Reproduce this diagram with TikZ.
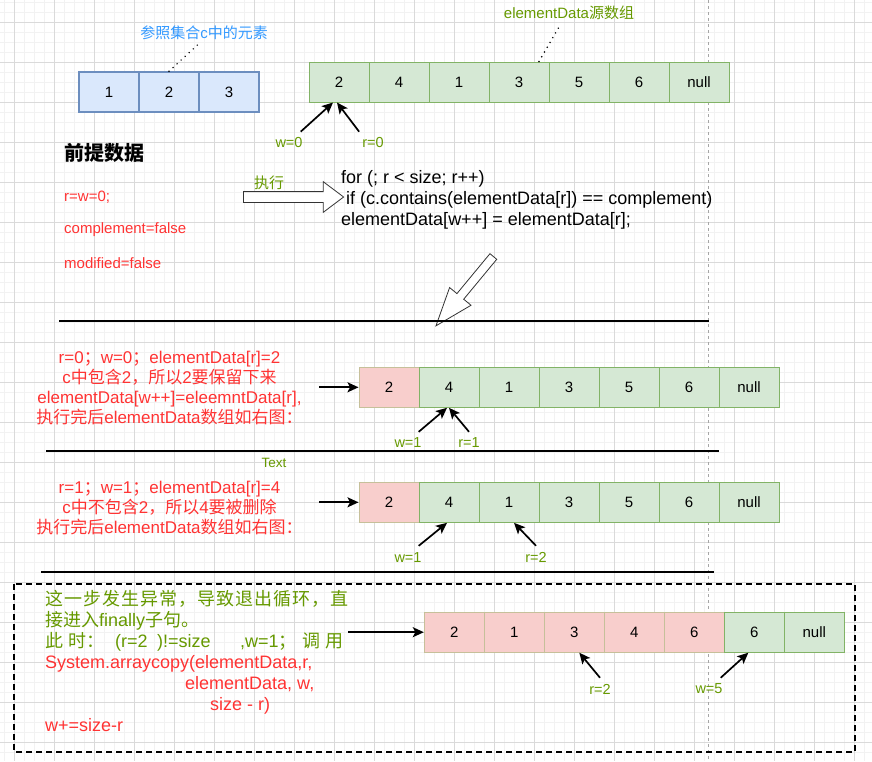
\documentclass[tikz,border=0pt]{standalone}
\usepackage{fontspec}
\setmainfont{Liberation Sans}
\newfontfamily\cjk{Noto Sans CJK SC}
\newfontfamily\cjkwide{Noto Sans CJK SC}[LetterSpace=5.5]
\usetikzlibrary{arrows.meta,shapes.arrows,positioning}

\definecolor{bfill}{HTML}{DAE8FC}
\definecolor{bline}{HTML}{6C8EBF}
\definecolor{gfill}{HTML}{D5E8D4}
\definecolor{gline}{HTML}{82B366}
\definecolor{rfill}{HTML}{F8CECC}
\definecolor{rline}{HTML}{C6C09A}
\definecolor{txtred}{HTML}{FF3333}
\definecolor{txtgreen}{HTML}{669900}
\definecolor{txtblue}{HTML}{3399FF}
\definecolor{gridmajor}{HTML}{DADADA}
\definecolor{gridminor}{HTML}{F2F2F2}

\newcommand{\fs}[2]{\fontsize{#1}{#2}\selectfont}

\tikzset{
    cell/.style =   {rectangle,
                    draw=#1line,
                    fill=#1fill,
                    text=black,
                    line width=1pt,
                    minimum width=60pt,
                    minimum height=40pt,
                    inner sep=0pt,
                    font=\fs{15}{18}},
    lbl/.style =    {text=txtgreen,
                    inner sep=1pt,
                    font=\fs{14.5}{17}},
    note/.style =   {text=txtred,
                    inner sep=0pt,
                    anchor=west,
                    font=\fs{15}{18}},
    ptr/.style =    {-{Stealth[length=11pt,width=10pt,inset=2.5pt]},
                    line width=1.7pt,
                    black},
    sep/.style =    {line width=2pt,
                    black},
    dots/.style =   {line width=1.6pt,
                    dash pattern=on 0pt off 5.5pt,
                    line cap=round},
    bigarrow/.style = {single arrow,
                    draw=black!80,
                    fill=white,
                    line width=0.8pt,
                    inner xsep=0pt}
}

\begin{document}
\begin{tikzpicture}[x=1pt,y=-1pt]
    \useasboundingbox (0,0) rectangle (872,761);
    % grid
    \foreach \x in {4.3,14.3,...,872} \draw[gridminor, line width=1pt] (\x,0) -- (\x,761);
    \foreach \y in {2.3,12.3,...,761} \draw[gridminor, line width=1pt] (0,\y) -- (872,\y);
    \foreach \x in {14.3,54.3,...,872} \draw[gridmajor, line width=1pt] (\x,0) -- (\x,761);
    \foreach \y in {22.3,62.3,...,761} \draw[gridmajor, line width=1pt] (0,\y) -- (872,\y);
    \draw[black!35, line width=0.6pt, dash pattern=on 3pt off 3pt] (708,0) -- (708,761);

    % collection c
    \foreach \v [count=\i] in {1,2,3}
        \node[cell=b, line width=1.5pt] (b\i) at ({49+60*\i},92) {\v};
    \node[font=\fs{15}{18}, text=txtblue] (lblC) at (204,33) {{\cjk 参照集合}c{\cjk 中的元素}};
    \draw[dots] (b2.north) -- ([xshift=-5pt]lblC.south);

    % source array
    \foreach \v [count=\i] in {2,4,1,3,5,6,null}
        \node[cell=g] (s\i) at ({279+60*\i},82) {\v};
    \node[font=\fs{15}{18}, text=txtgreen] (lblS) at (569,13) {elementData{\cjk 源数组}};
    \draw[dots] ([xshift=20pt]s4.north) -- ([xshift=-8pt]lblS.south);

    \node[lbl] (w0) at (289,143) {w=0};
    \node[lbl] (r0) at (373,143) {r=0};
    \draw[ptr] ([shift={(-3pt,5pt)}]w0.north east) -- ([xshift=-6pt]s1.south);
    \draw[ptr] ([shift={(-2pt,5pt)}]r0.north west) -- ([xshift=-2pt]s1.south);

    % given data
    \node[font={\fs{20}{24}\cjk\bfseries}, anchor=west, inner sep=0pt] (pre) at (64,153) {前提数据};
    \node[note] (rw) at (64,197) {r=w=0;};
    \node[note] (cmp) at (64,230) {complement=false};
    \node[note] (mod) at (64,263) {modified=false};

    \node[font={\fs{15}{18}\cjk}, text=txtgreen] (exe) at (269,183) {执行};
    \node[bigarrow, minimum height=100pt, inner ysep=5pt,
          single arrow head extend=10pt, single arrow tip angle=74] (goArr) at (290,197) {};

    \node[anchor=west, align=left, inner sep=0pt, font=\fs{18}{21}] (code) at (341,200)
        {for (; r < size; r++)\\\hspace*{5pt}if (c.contains(elementData[r]) == complement)\\elementData[w++] = elementData[r];};

    \node[bigarrow, minimum height=90pt, inner ysep=4pt, single arrow head extend=9.5pt,
          single arrow tip angle=40, rotate=230.4] (downArr) at (468.5,286.5) {};
    \draw[sep] (59,321) -- (709,321);

    % step r=0
    \node[align=center, text=txtred, font=\fs{17}{20}] (step1) at (169.5,388)
        {r=0{\cjk ；}w=0{\cjk ；}elementData[r]=2\\c{\cjk 中包含}2{\cjk ，所以}2{\cjk 要保留下来}\\elementData[w++]=eleemntData[r],\\{\cjk 执行完后}elementData{\cjk 数组如右图：}};
    \coordinate (p1) at (319,387.3);
    \foreach \v/\c [count=\i] in {2/r,4/g,1/g,3/g,5/g,6/g,null/g}
        \node[cell=\c] (a\i) at ({329+60*\i},387.3) {\v};
    \draw[ptr] (p1) -- (a1.west);
    \node[lbl] (w1) at (408,443) {w=1};
    \node[lbl] (r1) at (469,443) {r=1};
    \draw[ptr] ([shift={(-4pt,5pt)}]w1.north east) -- ([xshift=-2pt]a2.south);
    \draw[ptr] ([yshift=5pt]r1.north) -- (a2.south);
    \draw[sep] (46,451) -- (719,451);
    \node[font=\fs{13.5}{16}, text=txtgreen] (txt) at (274,463) {Text};

    % step r=1
    \node[align=center, text=txtred, font=\fs{17}{20}] (step2) at (169.5,508)
        {r=1{\cjk ；}w=1{\cjk ；}elementData[r]=4\\c{\cjk 中不包含}2{\cjk ，所以}4{\cjk 要被删除}\\{\cjk 执行完后}elementData{\cjk 数组如右图：}};
    \coordinate (p2) at (319,502.3);
    \foreach \v/\c [count=\i] in {2/r,4/g,1/g,3/g,5/g,6/g,null/g}
        \node[cell=\c] (c\i) at ({329+60*\i},502.3) {\v};
    \draw[ptr] (p2) -- (c1.west);
    \node[lbl] (w2) at (408,557) {w=1};
    \node[lbl] (r2) at (536,557) {r=2};
    \draw[ptr] ([shift={(-4pt,5pt)}]w2.north east) -- ([xshift=-2pt]c2.south);
    \draw[ptr] ([yshift=5pt]r2.north) -- ([xshift=5pt]c3.south);
    \draw[sep] (41,572) -- (714,572);

    % finally
    \draw[line width=1.5pt, dash pattern=on 6pt off 4pt] (14,584) rectangle (855,752);
    \node[anchor=north west, align=left, inner sep=0pt, text=txtred, font=\fs{18}{21}] (fin) at (45,590)
        {{\color{txtgreen}\cjkwide 这一步发生异常，导致退出循环，直}\\
         {\color{txtgreen}{\cjk 接进入}finally{\cjk 子句。}}\\
         {\color{txtgreen}{\cjk 此}\hspace{5pt}{\cjk 时：}\hspace{11pt}(r=2\hspace{9.5pt})!=size\hspace{29.5pt},w=1{\cjk ；}\hspace{5.5pt}{\cjk 调}\hspace{5pt}{\cjk 用}}\\
         System.arraycopy(elementData,r,\\
         \hspace*{140pt}elementData, w,\\
         \hspace*{165pt}size - r)\\
         w+=size-r};
    \coordinate (p3) at (348,632.2);
    \foreach \v/\c [count=\i] in {2/r,1/r,3/r,4/r,6/r,6/g,null/g}
        \node[cell=\c] (d\i) at ({394.3+60*\i},632.2) {\v};
    \draw[ptr] (p3) -- (d1.west);
    \node[lbl] (r3) at (600,689) {r=2};
    \node[lbl] (w5) at (709,689) {w=5};
    \draw[ptr] ([yshift=5pt]r3.north) -- ([xshift=5pt]d3.south);
    \draw[ptr] ([shift={(-3pt,5pt)}]w5.north east) -- ([xshift=-6pt]d6.south);
\end{tikzpicture}
\end{document}
